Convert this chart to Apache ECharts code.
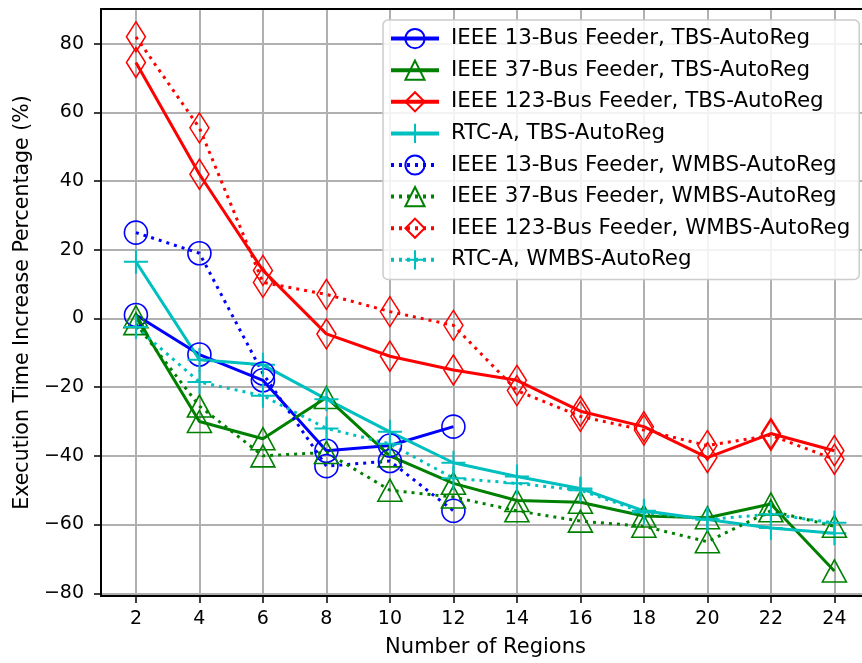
<!DOCTYPE html>
<html>
<head>
<meta charset="utf-8">
<script src="https://cdn.jsdelivr.net/npm/echarts@6/dist/echarts.min.js"></script>
<style>
  html, body { margin: 0; padding: 0; background: #fff; }
  #chart { width: 862px; height: 663px; }
</style>
</head>
<body>
<div id="chart"></div>
<script>
// x values (number of regions)
const regions = [2, 4, 6, 8, 10, 12, 14, 16, 18, 20, 22, 24]
const yTicks = [-80, -60, -40, -20, 0, 20, 40, 60, 80]

// TBS-AutoReg
const ieee13Tbs = [1, -10.5, -18, -38.5, -37, -31.5]
const ieee37Tbs = [0.5, -30, -35, -23, -40, -48, -53, -53.5, -57.5, -58, -54, -73.5]
const ieee123Tbs = [74.5, 42, 14, -4.5, -11, -15, -18, -27, -31.5, -40.5, -33.5, -38.5]
const rtcaTbs = [16.5, -12, -13.5, -23.5, -33, -42, -46, -49.5, -56, -58.5, -61, -62.5]

// WMBS-AutoReg
const ieee13Wmbs = [25, 19, -16, -43, -41.5, -56]
const ieee37Wmbs = [-1.5, -25.5, -40, -39, -50, -52, -56, -59, -60.5, -65, -56, -60.5]
const ieee123Wmbs = [82, 55.5, 10.5, 7, 2, -2, -21, -28.5, -32.5, -37, -34, -41]
const rtcaWmbs = [-2.5, -18.5, -22.5, -32, -36.5, -46.5, -48, -50, -56.5, -58.5, -57, -59.5]

const font = 'DejaVu Sans'
const plusPath = 'path://M0,-1L0,1M-1,0L1,0'
// the figure is cut off on the right, so the axis ends a bit past 24
const xMin = 0.9
const xMax = 24.87

function pairs(values) {
  return values.map((v, i) => [regions[i], v])
}

function makeSeries(name, values, color, symbol, size, dotted) {
  return {
    name: name,
    type: 'line',
    data: pairs(values),
    symbol: symbol,
    symbolSize: size,
    showAllSymbol: true,
    animation: false,
    lineStyle: {
      color: color,
      width: 3,
      type: dotted ? [3, 5] : 'solid',
      cap: 'butt'
    },
    itemStyle: {
      color: 'transparent',
      borderColor: color,
      borderWidth: symbol === plusPath ? 2 : 1.6
    },
    emphasis: { disabled: true }
  }
}

const seriesList = [
  makeSeries('IEEE 13-Bus Feeder, TBS-AutoReg', ieee13Tbs, '#0000ff', 'circle', 23, false),
  makeSeries('IEEE 37-Bus Feeder, TBS-AutoReg', ieee37Tbs, '#008000', 'triangle', [24, 22], false),
  makeSeries('IEEE 123-Bus Feeder, TBS-AutoReg', ieee123Tbs, '#ff0000', 'diamond', [19, 30], false),
  makeSeries('RTC-A, TBS-AutoReg', rtcaTbs, '#00bfbf', plusPath, 24, false),
  makeSeries('IEEE 13-Bus Feeder, WMBS-AutoReg', ieee13Wmbs, '#0000ff', 'circle', 23, true),
  makeSeries('IEEE 37-Bus Feeder, WMBS-AutoReg', ieee37Wmbs, '#008000', 'triangle', [24, 22], true),
  makeSeries('IEEE 123-Bus Feeder, WMBS-AutoReg', ieee123Wmbs, '#ff0000', 'diamond', [19, 30], true),
  makeSeries('RTC-A, WMBS-AutoReg', rtcaWmbs, '#00bfbf', plusPath, 24, true)
]

const chart = echarts.init(document.getElementById('chart'))
chart.setOption({
  backgroundColor: '#fff',
  textStyle: { fontFamily: font },
  grid: {
    left: 101,
    top: 9,
    right: 0,
    bottom: 66,
    show: false
  },
  legend: {
    left: 383,
    top: 20,
    orient: 'vertical',
    itemWidth: 48,
    itemHeight: 24,
    itemGap: 10.4,
    padding: [8, 9, 9, 6],
    backgroundColor: 'rgba(255,255,255,0.85)',
    borderColor: '#cccccc',
    borderWidth: 1.5,
    borderRadius: 5,
    lineStyle: { width: 4 },
    textStyle: { fontFamily: font, fontSize: 21.4, color: '#000', padding: [0, 0, 0, 7] },
    data: seriesList.map(s => s.name)
  },
  xAxis: [{
    type: 'value',
    min: xMin,
    max: xMax,
    name: 'Number of Regions',
    nameLocation: 'middle',
    nameGap: 41,
    nameTextStyle: { fontFamily: font, fontSize: 21, color: '#000', padding: [0, 0, 0, 8] },
    axisLine: { show: true, onZero: false, lineStyle: { color: '#000', width: 2 } },
    axisTick: {
      show: true,
      inside: false,
      length: 7,
      customValues: regions,
      lineStyle: { color: '#000', width: 1.5 }
    },
    axisLabel: {
      customValues: regions,
      margin: 14,
      fontFamily: font,
      fontSize: 19,
      color: '#000'
    },
    splitLine: { show: true, lineStyle: { color: '#b0b0b0', width: 2 } }
  }, {
    // top spine only
    type: 'value',
    position: 'top',
    min: xMin,
    max: xMax,
    axisLine: { show: true, onZero: false, lineStyle: { color: '#000', width: 2 } },
    axisTick: { show: false },
    axisLabel: { show: false },
    splitLine: { show: false }
  }],
  yAxis: {
    type: 'value',
    min: -80.8,
    max: 90.1,
    name: 'Execution Time Increase Percentage (%)',
    nameLocation: 'middle',
    nameGap: 67,
    nameTextStyle: { fontFamily: font, fontSize: 20.5, color: '#000' },
    axisLine: { show: true, onZero: false, lineStyle: { color: '#000', width: 2 } },
    axisTick: {
      show: true,
      inside: false,
      length: 7,
      customValues: yTicks,
      lineStyle: { color: '#000', width: 1.5 }
    },
    axisLabel: {
      customValues: yTicks,
      margin: 17,
      fontFamily: font,
      fontSize: 19,
      color: '#000',
      formatter: v => (v < 0 ? '\u2212' + Math.abs(v) : String(v))
    },
    splitLine: { show: true, lineStyle: { color: '#b0b0b0', width: 2 } }
  },
  series: seriesList
})
</script>
</body>
</html>
